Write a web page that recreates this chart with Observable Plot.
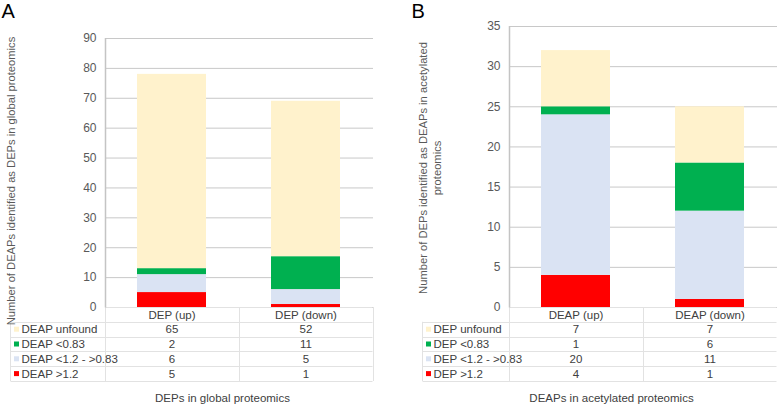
<!DOCTYPE html>
<html>
<head>
<meta charset="utf-8">
<script src="https://cdn.jsdelivr.net/npm/d3@7"></script>
<script src="https://cdn.jsdelivr.net/npm/@observablehq/plot@0.6"></script>
<style>
  body { margin: 0; background: #fff; }
  #wrap { display: flex; width: 777px; height: 405px; overflow: hidden; }
  svg { display: block; }
</style>
</head>
<body>
<div id="wrap"></div>
<script>
// ---- Panel A data ----
const categoriesA = ["DEP (up)", "DEP (down)"];
const seriesA = ["DEAP >1.2", "DEAP <1.2 - >0.83", "DEAP <0.83", "DEAP unfound"]; // bottom to top
const valuesA = [
  [5, 1],    // DEAP >1.2
  [6, 5],    // DEAP <1.2 - >0.83
  [2, 11],   // DEAP <0.83
  [65, 52]   // DEAP unfound
];
const ticksA = [0, 10, 20, 30, 40, 50, 60, 70, 80, 90];
const yLabelA = "Number of DEAPs identified as DEPs in global proteomics";
const titleA = "DEPs in global proteomics";

// ---- Panel B data ----
const categoriesB = ["DEAP (up)", "DEAP (down)"];
const seriesB = ["DEP >1.2", "DEP <1.2 - >0.83", "DEP <0.83", "DEP unfound"]; // bottom to top
const valuesB = [
  [4, 1],    // DEP >1.2
  [20, 11],  // DEP <1.2 - >0.83
  [1, 6],    // DEP <0.83
  [7, 7]     // DEP unfound
];
const ticksB = [0, 5, 10, 15, 20, 25, 30, 35];
const yLabelB = "Number of DEPs identified as DEAPs in acetylated\nproteomics";
const titleB = "DEAPs in acetylated proteomics";

const seriesColors = ["#FF0000", "#DAE3F3", "#00B050", "#FFF2CC"]; // bottom to top

const ROW = 14.8;

function panel(o) {
  const {letter, categories, series, values, ticks, yLabel, title,
         width, marginLeft, marginRight, marginTop, tableLeft, titleDx, yLabelDx, yLabelDy, letterX} = o;
  const marginBottom = 98;
  const data = [];
  series.forEach((s, k) => categories.forEach((c, j) => data.push({series: s, category: c, value: values[k][j]})));

  const tableMark = (index, scales, vals, dim) => {
    const g = d3.create("svg:g");
    const L = dim.marginLeft, R = dim.width - dim.marginRight - 0.5;
    const M = (L + R) / 2;
    const T = dim.marginTop;
    const B0 = dim.height - dim.marginBottom;
    const tl = tableLeft + 0.5;
    const lineC = "#e2e2e2";
    const bottom = B0 + ROW * 5;
    g.append("line").attr("x1", L).attr("x2", R).attr("y1", B0 + 0.5).attr("y2", B0 + 0.5).attr("stroke", lineC);
    for (let r = 1; r <= 5; r++) {
      const yy = Math.round(B0 + ROW * r) + 0.5;
      g.append("line").attr("x1", tl).attr("x2", R).attr("y1", yy).attr("y2", yy).attr("stroke", lineC);
    }
    g.append("line").attr("x1", tl).attr("x2", tl).attr("y1", B0 + ROW).attr("y2", bottom).attr("stroke", lineC);
    [M, R].forEach(xx => g.append("line").attr("x1", Math.round(xx) + 0.5).attr("x2", Math.round(xx) + 0.5)
      .attr("y1", B0).attr("y2", bottom).attr("stroke", lineC));
    g.append("line").attr("x1", L + 0.5).attr("x2", L + 0.5).attr("y1", B0).attr("y2", bottom).attr("stroke", lineC);
    g.append("line").attr("x1", L + 0.5).attr("x2", L + 0.5).attr("y1", T).attr("y2", B0 + 0.5).attr("stroke", "#c4c4c4").attr("stroke-width", 1.5);
    series.forEach((s, k) => {
      const r = series.length - k;
      g.append("rect").attr("x", tableLeft + 4).attr("y", B0 + ROW * (r + 0.5) - 2.5)
        .attr("width", 5).attr("height", 5).attr("fill", scales.color(s));
    });
    return g.node();
  };

  const tableFont = 11.5;
  const marks = [
    Plot.gridY(ticks, {stroke: "#c8c8c8", strokeOpacity: 1}),
    Plot.barY(data, {x: "category", y: "value", fill: "series", order: series}),
    Plot.axisY(ticks, {tickSize: 0, tickPadding: 9, label: null, fill: "#595959", fontSize: 12}),
    Plot.text(categories, {x: d => d, text: d => d, frameAnchor: "bottom", dy: ROW * 0.5, lineAnchor: "middle", fill: "#404040", fontSize: tableFont}),
    tableMark
  ];
  series.forEach((s, k) => {
    const r = series.length - k;
    const rows = categories.map((c, j) => ({category: c, value: values[k][j]}));
    marks.push(Plot.text(rows, {x: "category", text: d => String(d.value), frameAnchor: "bottom", dy: ROW * (r + 0.5), lineAnchor: "middle", fill: "#404040", fontSize: tableFont}));
    marks.push(Plot.text([s], {text: d => d, frameAnchor: "bottom-left", dx: tableLeft + 11 - marginLeft, dy: ROW * (r + 0.5), textAnchor: "start", lineAnchor: "middle", fill: "#404040", fontSize: tableFont}));
  });
  marks.push(Plot.text([yLabel], {text: d => d, frameAnchor: "left", rotate: -90, dx: yLabelDx, dy: yLabelDy, textAnchor: "middle", lineAnchor: "middle", fill: "#595959", fontSize: 11.2, lineHeight: 1.25}));
  marks.push(Plot.text([title], {text: d => d, frameAnchor: "bottom", dx: titleDx, dy: 91, lineAnchor: "middle", fill: "#404040", fontSize: 11.5}));
  marks.push(Plot.text([letter], {text: d => d, frameAnchor: "top-left", dx: letterX - marginLeft, dy: 3 - marginTop, textAnchor: "start", lineAnchor: "top", fill: "#000", fontSize: 20}));

  return Plot.plot({
    width, height: 405, marginLeft, marginRight, marginTop, marginBottom,
    style: {fontFamily: "'Liberation Sans', Arial, sans-serif", fontSize: "11px", background: "#fff", overflow: "visible"},
    x: {domain: categories, paddingInner: 0.485, paddingOuter: 0.2425, axis: null},
    y: {domain: [ticks[0], ticks[ticks.length - 1]]},
    color: {domain: series, range: seriesColors},
    marks
  });
}

const wrap = document.getElementById("wrap");
wrap.append(panel({
  letter: "A", categories: categoriesA, series: seriesA, values: valuesA, ticks: ticksA,
  yLabel: yLabelA, title: titleA, width: 388, marginLeft: 105, marginRight: 15, marginTop: 38,
  tableLeft: 10, titleDx: -17, yLabelDx: -95, yLabelDy: 8, letterX: 1
}));
wrap.append(panel({
  letter: "B", categories: categoriesB, series: seriesB, values: valuesB, ticks: ticksB,
  yLabel: yLabelB, title: titleB, width: 389, marginLeft: 121, marginRight: 0, marginTop: 26,
  tableLeft: 34, titleDx: -32, yLabelDx: -79.5, yLabelDy: 1, letterX: 23
}));
</script>
</body>
</html>
